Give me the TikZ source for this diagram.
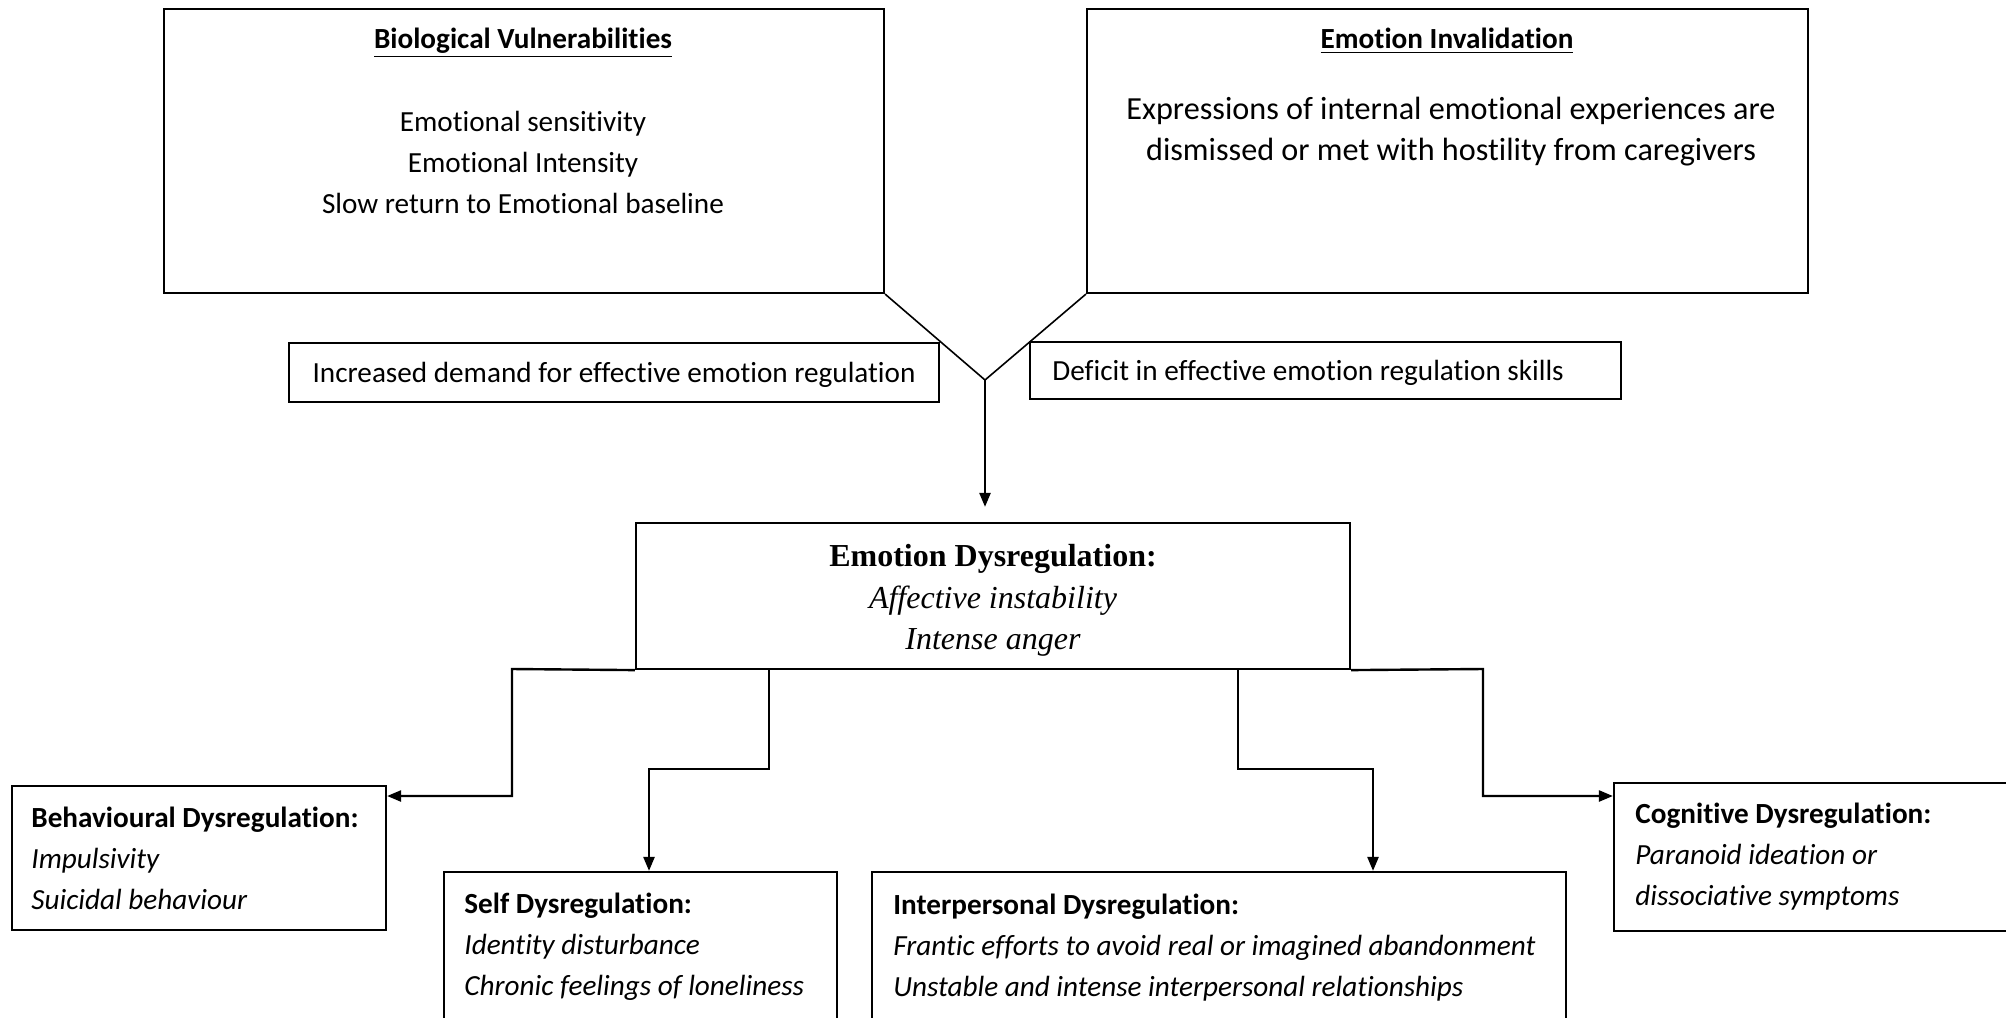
\documentclass[tikz,border=0pt]{standalone}
\usepackage{fontspec}
\setmainfont{Carlito}[RawFeature=-liga]
\newfontfamily\timesf{Liberation Serif}
\usetikzlibrary{arrows.meta,fit}
\begin{document}
\begin{tikzpicture}[x=0.5pt,y=-0.5pt,
  box/.style={draw,line width=1.1pt,inner sep=0pt},
  conn/.style={line width=1.2pt},
  vline/.style={line width=0.8pt},
  arr/.style={conn,-{Triangle[length=7pt,width=5.5pt]}},
  txt/.style={inner sep=0pt,font=\fontsize{14.6}{20.5}\selectfont},
  bigtxt/.style={inner sep=0pt,font=\fontsize{16.1}{20.5}\selectfont},
  ttl/.style={inner sep=0pt,font=\fontsize{14.6}{20.5}\selectfont\bfseries},
  edtxt/.style={inner sep=0pt,font=\timesf\fontsize{16}{20.75}\selectfont}]
\useasboundingbox (0,0) rectangle (2006,1017);
% boxes
\node[box,fit={(164,9)(884,293)}] (bio) {};
\node[box,fit={(1087,9)(1808,293)}] (inv) {};
\node[box,fit={(289,343)(939,402)}] (inc) {};
\node[box,fit={(1030,342)(1621,399)}] (def) {};
\node[box,fit={(636,523)(1350,669)}] (ed) {};
\node[box,fit={(12,786)(386,930)}] (beh) {};
\node[box,fit={(444,872)(837,1030)}] (self) {};
\node[box,fit={(872,872)(1566,1030)}] (inter) {};
\node[box,fit={(1614,783)(2030,931)}] (cog) {};
% texts
\node[ttl,anchor=north] (biot) at (523,28) {\underline{Biological Vulnerabilities}};
\node[txt,anchor=north,align=center] (biob) at (523,111) {Emotional sensitivity\\Emotional Intensity\\Slow return to Emotional baseline};
\node[ttl,anchor=north] (invt) at (1447,28) {\underline{Emotion Invalidation}};
\node[bigtxt,anchor=north,align=center] (invb) at (1451,97) {Expressions of internal emotional experiences are\\dismissed or met with hostility from caregivers};
\node[txt] (inct) at ([yshift=-1pt]inc.center) {Increased demand for effective emotion regulation};
\node[txt,anchor=west] (deft) at (1052,373) {Deficit in effective emotion regulation skills};
\node[edtxt,anchor=north,align=center] (edt) at (993,544) {\textbf{Emotion Dysregulation:}\\\textit{Affective instability}\\\textit{Intense anger}};
\node[txt,anchor=north west,align=left] (beht) at (31,807) {\textbf{Behavioural Dysregulation:}\\\textit{Impulsivity}\\\textit{Suicidal behaviour}};
\node[txt,anchor=north west,align=left] (selft) at (464,893) {\textbf{Self Dysregulation:}\\\textit{Identity disturbance}\\\textit{Chronic feelings of loneliness}};
\node[txt,anchor=north west,align=left] (intert) at (893,894) {\textbf{Interpersonal Dysregulation:}\\\textit{Frantic efforts to avoid real or imagined abandonment}\\\textit{Unstable and intense interpersonal relationships}};
\node[txt,anchor=north west,align=left] (cogt) at (1635,803) {\textbf{Cognitive Dysregulation:}\\\textit{Paranoid ideation or}\\\textit{dissociative symptoms}};
% connectors
\coordinate (v) at (985,380);
\draw[vline] (bio.south east) -- (v) -- (inv.south west);
\draw[arr,shorten >=7.5pt] (v) -- (ed.north -| v);
\draw[arr] (ed.south west) -- (512,669) -- (512,796) -- (beh.east |- 0,796);
\draw[arr] (769,669) -- (769,769) -- (649,769) -- (self.north -| 649,0);
\draw[arr] (1238,669) -- (1238,769) -- (1373,769) -- (inter.north -| 1373,0);
\draw[arr] (ed.south east) -- (1483,669) -- (1483,796) -- (cog.west |- 0,796);
\end{tikzpicture}
\end{document}
